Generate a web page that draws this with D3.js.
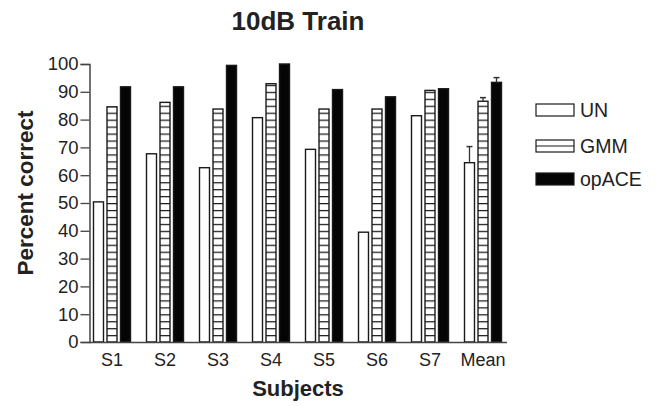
<!DOCTYPE html>
<html>
<head>
<meta charset="utf-8">
<script src="https://cdn.jsdelivr.net/npm/d3@7"></script>
<style>
  body { margin: 0; background: #fff; }
  text { font-family: "Liberation Sans", Arial, Helvetica, sans-serif; fill: #222; }
</style>
</head>
<body>
<div id="chart"></div>
<script>
var subjects = ['S1', 'S2', 'S3', 'S4', 'S5', 'S6', 'S7', 'Mean'];
var series = ['UN', 'GMM', 'opACE'];
var unVals = [50.4, 67.7, 62.7, 80.7, 69.3, 39.5, 81.4, 64.5];
var gmmVals = [84.6, 86.2, 83.8, 92.9, 83.8, 83.8, 90.5, 86.6];
var aceVals = [91.8, 91.8, 99.5, 100, 90.8, 88.2, 91.1, 93.4];
// error bars only on the Mean group (upper half shown)
var meanErr = [5.8, 1.3, 1.7];
var yTicks = [0, 10, 20, 30, 40, 50, 60, 70, 80, 90, 100];

var width = 662, height = 406;
var ink = '#1a1a1a';

var svg = d3.select('#chart').append('svg')
  .attr('width', width)
  .attr('height', height);

var y = d3.scaleLinear().domain([0, 100]).range([342, 64]);
var x0 = d3.scaleBand().domain(subjects).range([85.5, 509.5]);
var x1 = d3.scaleBand().domain(series).range([-18.5, 18.5]).paddingInner(0.26);

var defs = svg.append('defs');
var pat = defs.append('pattern')
  .attr('id', 'hlines')
  .attr('patternUnits', 'userSpaceOnUse')
  .attr('x', 0).attr('y', y(0))
  .attr('width', 8).attr('height', 6.95);
pat.append('rect').attr('width', 8).attr('height', 6.95).attr('fill', '#fff');
pat.append('line')
  .attr('x1', 0).attr('x2', 8).attr('y1', 0.6).attr('y2', 0.6)
  .attr('stroke', ink).attr('stroke-width', 1.3);

var fills = { UN: '#fff', GMM: 'url(#hlines)', opACE: '#050505' };

var rows = subjects.map(function(s, i) {
  return { subject: s, vals: [unVals[i], gmmVals[i], aceVals[i]] };
});

// bars
var groups = svg.selectAll('g.grp')
  .data(rows)
  .enter().append('g')
  .attr('class', 'grp')
  .attr('transform', function(d) { return 'translate(' + (x0(d.subject) + x0.bandwidth() / 2) + ',0)'; });

groups.selectAll('rect')
  .data(function(d) { return d.vals.map(function(v, k) { return { key: series[k], v: v }; }); })
  .enter().append('rect')
  .attr('x', function(d) { return x1(d.key); })
  .attr('width', x1.bandwidth())
  .attr('y', function(d) { return y(d.v); })
  .attr('height', function(d) { return y(0) - y(d.v); })
  .attr('fill', function(d) { return fills[d.key]; })
  .attr('stroke', ink)
  .attr('stroke-width', 1.4);

// error bars on Mean
var meanRow = rows[rows.length - 1];
var eg = svg.append('g')
  .attr('transform', 'translate(' + (x0('Mean') + x0.bandwidth() / 2) + ',0)');
meanRow.vals.forEach(function(v, k) {
  var cx = x1(series[k]) + x1.bandwidth() / 2;
  eg.append('line')
    .attr('x1', cx).attr('x2', cx)
    .attr('y1', y(v)).attr('y2', y(v + meanErr[k]))
    .attr('stroke', '#333').attr('stroke-width', 1.3);
  eg.append('line')
    .attr('x1', cx - 3).attr('x2', cx + 3)
    .attr('y1', y(v + meanErr[k])).attr('y2', y(v + meanErr[k]))
    .attr('stroke', '#333').attr('stroke-width', 1.5);
});

// y axis
var yAxis = svg.append('g')
  .attr('transform', 'translate(89.5,0)')
  .call(d3.axisLeft(y).tickValues(yTicks).tickSize(9).tickPadding(2));
yAxis.select('.domain').attr('stroke', '#444').attr('stroke-width', 1.5);
yAxis.selectAll('.tick line').attr('stroke', '#444').attr('stroke-width', 1.3);
yAxis.selectAll('.tick text')
  .attr('font-size', 18.5)
  .style('font-family', '"Liberation Sans", Arial, sans-serif')
  .attr('fill', '#222');

// x axis
var xAxis = svg.append('g')
  .attr('transform', 'translate(0,' + y(0) + ')')
  .call(d3.axisBottom(x0).tickSize(0).tickPadding(11));
xAxis.select('.domain').attr('d', 'M89,0.5H507').attr('stroke', '#444').attr('stroke-width', 1.5);
xAxis.selectAll('.tick text')
  .attr('font-size', 18)
  .style('font-family', '"Liberation Sans", Arial, sans-serif')
  .attr('fill', '#222');

// titles
svg.append('text')
  .attr('x', 298).attr('y', 30)
  .attr('text-anchor', 'middle')
  .attr('font-size', 26).attr('font-weight', 'bold')
  .text('10dB Train');

svg.append('text')
  .attr('x', 298).attr('y', 396)
  .attr('text-anchor', 'middle')
  .attr('font-size', 22).attr('font-weight', 'bold')
  .text('Subjects');

svg.append('text')
  .attr('transform', 'translate(33,193) rotate(-90)')
  .attr('text-anchor', 'middle')
  .attr('font-size', 22.5).attr('font-weight', 'bold')
  .text('Percent correct');

// legend
var legY = [110, 146, 179];
var leg = svg.selectAll('g.leg')
  .data(series)
  .enter().append('g')
  .attr('class', 'leg')
  .attr('transform', function(d, i) { return 'translate(536,' + legY[i] + ')'; });

leg.append('rect')
  .attr('x', 0).attr('y', -6)
  .attr('width', 38).attr('height', 12)
  .attr('fill', function(d) { return d == 'opACE' ? '#050505' : '#fff'; })
  .attr('stroke', ink).attr('stroke-width', 1.2);
leg.filter(function(d) { return d == 'GMM'; })
  .append('line')
  .attr('x1', 0).attr('x2', 38).attr('y1', 0).attr('y2', 0)
  .attr('stroke', ink).attr('stroke-width', 1.2);
leg.append('text')
  .attr('x', 44).attr('y', 0)
  .attr('dy', '0.35em')
  .attr('font-size', 19.5)
  .text(function(d) { return d; });
</script>
</body>
</html>
